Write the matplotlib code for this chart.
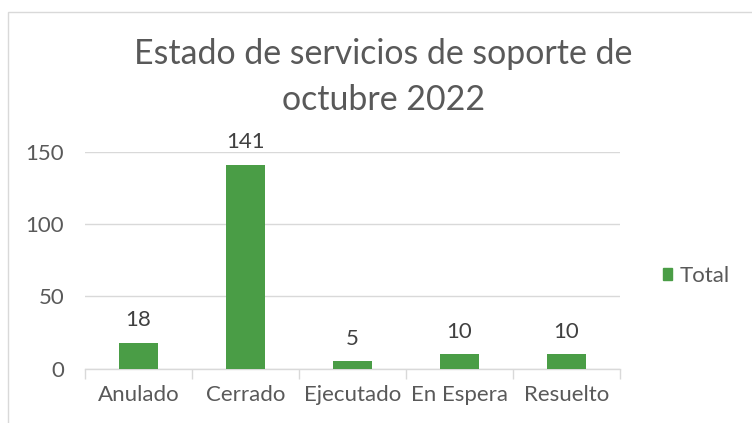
import matplotlib
matplotlib.use("Agg")
import matplotlib.pyplot as plt
from matplotlib.patches import Rectangle, Patch

""" Data """

categories = ["Anulado", "Cerrado", "Ejecutado", "En Espera", "Resuelto"]
totals = [18, 141, 5, 10, 10]
y_ticks = [0, 50, 100, 150]
title = "Estado de servicios de soporte de\noctubre 2022"

green = "#4a9d46"
text_gray = "#595959"
grid_gray = "#d9d9d9"

plt.rcParams['font.family'] = ['Lato', 'DejaVu Sans']

fig = plt.figure(figsize=(7.52, 4.23), dpi=100)

# chart area border (only top/left visible in the crop)
fig.patches.append(Rectangle((8 / 752, -0.1), 1.2, 1 - 12 / 423 + 0.1,
                             transform=fig.transFigure, fill=False,
                             edgecolor=grid_gray, linewidth=1.0))

ax = fig.add_axes([85 / 752, 1 - 368.6 / 423, (620 - 85) / 752, (368.6 - 151.7) / 423])

x = list(range(len(categories)))
ax.bar(x, totals, width=0.37, color=green, zorder=3)

for xi, v in zip(x, totals):
    ax.annotate(str(v), (xi, v), xytext=(0, 9), textcoords='offset points',
                ha='center', va='bottom', fontsize=16, color='#404040')

ax.set_xlim(-0.5, len(categories) - 0.5)
ax.set_ylim(0, 150)
ax.set_yticks(y_ticks)
ax.yaxis.grid(True, color=grid_gray, linewidth=1.0, zorder=0)
ax.set_axisbelow(True)

ax.set_xticks(x)
ax.set_xticklabels(categories)
ax.set_xticks([i - 0.5 for i in range(len(categories) + 1)], minor=True)
ax.tick_params(axis='x', which='major', length=0, pad=12, labelsize=16, labelcolor=text_gray)
ax.tick_params(axis='x', which='minor', length=7, color=grid_gray, width=1.0)
ax.tick_params(axis='y', length=0, pad=15, labelsize=16, labelcolor=text_gray)

for side in ['top', 'right', 'left']:
    ax.spines[side].set_visible(False)
ax.spines['bottom'].set_color(grid_gray)
ax.spines['bottom'].set_linewidth(1.0)

fig.text(383.5 / 752, 1 - 77 / 423, title, ha='center', va='center',
         fontsize=24.4, color=text_gray, linespacing=1.5)

fig.legend(handles=[Patch(color=green, label='Total')], loc='center left',
           bbox_to_anchor=(643 / 752, 1 - 276 / 423), frameon=False,
           handlelength=0.4, handleheight=0.4, handletextpad=0.35,
           fontsize=16, labelcolor=text_gray)

fig.savefig("out.png", dpi=100)
